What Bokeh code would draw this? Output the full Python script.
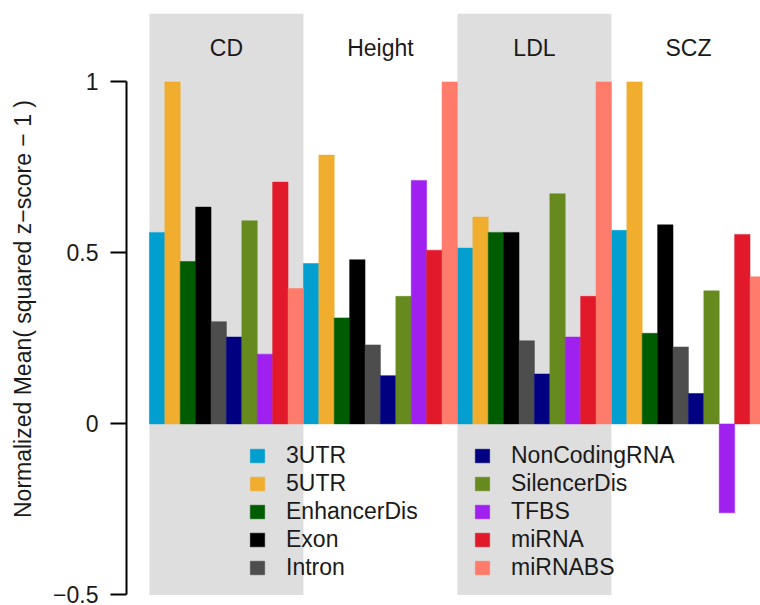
from bokeh.plotting import figure
from bokeh.models import Range1d, FixedTicker, Legend, LegendItem
from bokeh.core.properties import value
from bokeh.embed import file_html
from bokeh.resources import INLINE

# ---------------- data ----------------
groups = ["CD", "Height", "LDL", "SCZ"]
categories = ["3UTR", "5UTR", "EnhancerDis", "Exon", "Intron",
              "NonCodingRNA", "SilencerDis", "TFBS", "miRNA", "miRNABS"]
colors = ["#009FD0", "#F0AD2E", "#005C00", "#000000", "#4D4D4D",
          "#000080", "#668A1E", "#A020F0", "#E2192B", "#FF7B6B"]
cd_vals = [0.560, 1.000, 0.475, 0.634, 0.299, 0.254, 0.594, 0.204, 0.707, 0.396]
height_vals = [0.469, 0.786, 0.310, 0.480, 0.231, 0.141, 0.373, 0.712, 0.508, 1.000]
ldl_vals = [0.514, 0.605, 0.560, 0.560, 0.243, 0.146, 0.673, 0.254, 0.373, 1.000]
scz_vals = [0.566, 1.000, 0.265, 0.582, 0.225, 0.089, 0.389, -0.260, 0.554, 0.430]
series = [cd_vals, height_vals, ldl_vals, scz_vals]
y_ticks = [-0.5, 0, 0.5, 1]
y_tick_labels = ["\u22120.5", "0", "0.5", "1"]
y_label = "Normalized Mean( squared z\u2212score \u2212 1 )"

FONT = "Liberation Sans"
FS = "23px"
n = len(categories)

p = figure(width=760, height=605,
           x_range=Range1d(-1.49, 39.68), y_range=Range1d(-0.528, 1.2),
           output_backend="svg", toolbar_location=None,
           min_border_left=126, min_border_right=0,
           min_border_top=13, min_border_bottom=1)
p.outline_line_color = None
p.xgrid.visible = False
p.ygrid.visible = False
p.xaxis.visible = False

# shaded group backgrounds (every other group)
band_left = [g * n for g in range(len(groups)) if g % 2 == 0]
band_right = [g * n + n for g in range(len(groups)) if g % 2 == 0]
p.quad(left=band_left, right=band_right, bottom=-0.5, top=1.2,
       fill_color="#DEDEDE", line_color=None)

# bars
renderers = []
for i, (cat, col) in enumerate(zip(categories, colors)):
    xs = [g * n + i + 0.5 for g in range(len(groups))]
    tops = [series[g][i] for g in range(len(groups))]
    r = p.vbar(x=xs, top=tops, bottom=0, width=1,
               fill_color=col, line_color=col, line_width=0.5)
    renderers.append(r)

# group labels
p.text(x=[g * n + n / 2 for g in range(len(groups))], y=[1.1] * len(groups),
       text=groups, text_align="center", text_baseline="middle",
       text_font=value(FONT), text_font_size=FS, text_color="#1a1a1a")

# y axis
ax = p.yaxis[0]
ax.ticker = FixedTicker(ticks=y_ticks)
ax.major_label_overrides = dict(zip(y_ticks, y_tick_labels))
ax.bounds = (-0.5, 1)
ax.axis_line_width = 2
ax.axis_line_color = "#000000"
ax.major_tick_line_width = 2
ax.major_tick_line_color = "#000000"
ax.major_tick_out = 16
ax.major_tick_in = 0
ax.minor_tick_out = 0
ax.minor_tick_in = 0
ax.major_label_standoff = 12
ax.major_label_text_font = FONT
ax.major_label_text_font_size = FS
ax.major_label_text_color = "#1a1a1a"
ax.axis_label = y_label
ax.axis_label_text_font = FONT
ax.axis_label_text_font_size = FS
ax.axis_label_text_font_style = "normal"
ax.axis_label_text_color = "#1a1a1a"
ax.axis_label_standoff = 14

# legends (two columns)
def make_legend(idx, loc):
    items = [LegendItem(label=categories[k], renderers=[renderers[k]]) for k in idx]
    leg = Legend(items=items, location=loc, orientation="vertical",
                 glyph_width=18, glyph_height=17, label_standoff=20,
                 spacing=0, padding=0, margin=0, label_height=28,
                 border_line_color=None, background_fill_alpha=0,
                 label_text_font=FONT, label_text_font_size=FS,
                 label_text_color="#1a1a1a")
    p.add_layout(leg)

make_legend(range(0, 5), (122, 23))
make_legend(range(5, 10), (347, 23))

open("out.html", "w").write(file_html(p, INLINE))
